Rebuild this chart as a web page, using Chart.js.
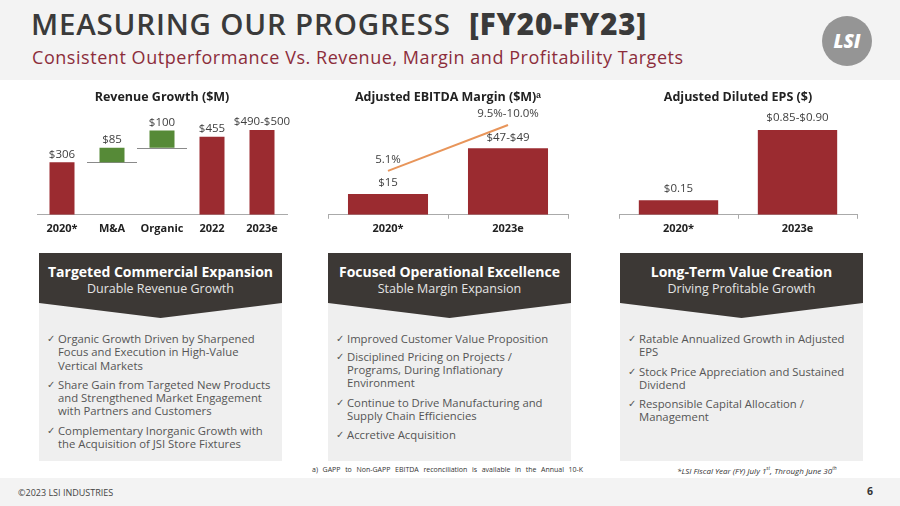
<!doctype html>
<html lang="en">
<head>
<meta charset="utf-8">
<title>Measuring Our Progress [FY20-FY23]</title>
<script src="https://cdn.jsdelivr.net/npm/chart.js@4"></script>
<style>
  body { margin:0; width:900px; height:506px; position:relative; overflow:hidden; background:#fff; font-family:'Open Sans', sans-serif; }
  .band { position:absolute; left:0; width:900px; background:#f3f3f3; }
  h1 { position:absolute; left:31px; top:3px; margin:0; font-size:29.5px; font-weight:600; letter-spacing:0.8px; color:#3a3a3a; white-space:nowrap; }
  h1 b { font-weight:800; margin-left:10px; }
  .sub { position:absolute; left:32px; top:45px; font-size:18px; letter-spacing:0.55px; color:#8c2d3b; white-space:nowrap; }
  .logo { position:absolute; left:822px; top:16px; width:50px; height:50px; border-radius:50%; background:#959595;
          color:#fff; font:italic 800 19px 'Open Sans', sans-serif; text-align:center; line-height:50px; }
  canvas { position:absolute; }
  .panel { position:absolute; top:253px; width:243px; height:208px; background:#efefef; }
  .cap { position:absolute; left:0; top:0; width:100%; height:65px; background:#3c3835;
         clip-path:polygon(0 0,100% 0,100% 50px,50% 65px,0 50px); text-align:center; color:#fff; }
  .cap h3 { margin:0; padding-top:10px; font-size:14px; font-weight:700; line-height:18px; white-space:nowrap; }
  .cap p { margin:0; font-size:12.5px; line-height:16px; color:#e4e4e4; }
  ul { position:absolute; left:0; top:79px; margin:0; padding:0; list-style:none; }
  li { position:relative; padding-left:19px; font-size:11.3px; line-height:13.3px; color:#555; white-space:nowrap; margin-bottom:6px; }
  li::before { content:'\2713'; position:absolute; left:8px; top:0; font-size:10px; color:#555; }
  .note { position:absolute; top:465px; white-space:nowrap; color:#333; }
  .foot { position:absolute; top:486px; font-size:9px; color:#444; }
</style>
</head>
<body>
<div class="band" style="top:0;height:80px"></div>
<div class="band" style="top:478px;height:28px"></div>
<h1>MEASURING OUR PROGRESS <b>[FY20-FY23]</b></h1>
<div class="sub">Consistent Outperformance Vs. Revenue, Margin and Profitability Targets</div>
<div class="logo">LSI</div>

<canvas id="revenue" width="265" height="148" style="left:30px;top:90px"></canvas>
<canvas id="ebitda" width="276" height="148" style="left:310px;top:90px"></canvas>
<canvas id="eps" width="276" height="148" style="left:600px;top:90px"></canvas>

<div class="panel" style="left:39px">
  <div class="cap"><h3>Targeted Commercial Expansion</h3><p>Durable Revenue Growth</p></div>
  <ul>
    <li>Organic Growth Driven by Sharpened<br>Focus and Execution in High-Value<br>Vertical Markets</li>
    <li>Share Gain from Targeted New Products<br>and Strengthened Market Engagement<br>with Partners and Customers</li>
    <li>Complementary Inorganic Growth with<br>the Acquisition of JSI Store Fixtures</li>
  </ul>
</div>
<div class="panel" style="left:328px">
  <div class="cap"><h3>Focused Operational Excellence</h3><p>Stable Margin Expansion</p></div>
  <ul>
    <li style="margin-bottom:4.5px">Improved Customer Value Proposition</li>
    <li>Disciplined Pricing on Projects /<br>Programs, During Inflationary<br>Environment</li>
    <li>Continue to Drive Manufacturing and<br>Supply Chain Efficiencies</li>
    <li>Accretive Acquisition</li>
  </ul>
</div>
<div class="panel" style="left:620px">
  <div class="cap"><h3>Long-Term Value Creation</h3><p>Driving Profitable Growth</p></div>
  <ul>
    <li>Ratable Annualized Growth in Adjusted<br>EPS</li>
    <li>Stock Price Appreciation and Sustained<br>Dividend</li>
    <li>Responsible Capital Allocation /<br>Management</li>
  </ul>
</div>

<div class="note" style="left:312px;font-size:7px;word-spacing:2.8px">a) GAPP to Non-GAPP EBITDA reconciliation is available in the Annual 10-K</div>
<div class="note" style="left:677px;font-size:8px;font-style:italic">*LSI Fiscal Year (FY) July 1<sup style="font-size:5px">st</sup>, Through June 30<sup style="font-size:5px">th</sup></div>
<div class="foot" style="left:18px">&copy;2023 LSI INDUSTRIES</div>
<div class="foot" style="left:867px;font-size:10.5px;font-weight:700;top:484px;color:#333">6</div>

<script>
// revenue bridge ($M)
const revCategories = ['2020*', 'M&A', 'Organic', '2022', '2023e']
const revStart = [0, 306, 391, 0, 0]
const revEnd = [306, 391, 491, 455, 495]
const revLabels = ['$306', '$85', '$100', '$455', '$490-$500']

// adjusted EBITDA ($M) and margin (%)
const ebitdaCategories = ['2020*', '2023e']
const ebitdaValues = [15, 48]
const ebitdaLabels = ['$15', '$47-$49']
const marginValues = [5.1, 9.75]
const marginLabels = ['5.1%', '9.5%-10.0%']

// adjusted diluted EPS ($)
const epsCategories = ['2020*', '2023e']
const epsValues = [0.15, 0.875]
const epsLabels = ['$0.15', '$0.85-$0.90']

const RED = '#9b2b30'
const GREEN = '#568a37'

Chart.defaults.font.family = "'Open Sans', sans-serif"
Chart.defaults.animation = false

// text above every bar / line point
const valueLabels = {
  id: 'valueLabels',
  afterDatasetsDraw(chart, args, opts) {
    const ctx = chart.ctx
    ctx.save()
    ctx.font = '11.5px "Open Sans", sans-serif'
    ctx.fillStyle = '#404040'
    ctx.textAlign = 'center'
    ctx.textBaseline = 'middle'
    opts.labels.forEach((labels, i) => {
      if (!labels) return
      chart.getDatasetMeta(i).data.forEach((el, j) => {
        ctx.fillText(labels[j], el.x, el.y - opts.offset)
      })
    })
    ctx.restore()
  }
}

// bridge connector under floating bars
const connectors = {
  id: 'connectors',
  beforeDatasetsDraw(chart) {
    const ctx = chart.ctx
    const step = chart.chartArea.width / chart.data.labels.length
    ctx.save()
    ctx.strokeStyle = '#8a8a8a'
    ctx.lineWidth = 1
    chart.getDatasetMeta(0).data.forEach((el, j) => {
      if (revStart[j] <= 0) return
      ctx.beginPath()
      ctx.moveTo(el.x - step / 2, Math.round(el.base) + 0.5)
      ctx.lineTo(el.x + step / 2, Math.round(el.base) + 0.5)
      ctx.stroke()
    })
    ctx.restore()
  }
}

function titleOpts(text) {
  return {
    display: true,
    text,
    color: '#222',
    font: { size: 12.5, weight: 'bold' },
    padding: { top: 0, bottom: 10 }
  }
}

function xAxis(tickColor) {
  return {
    offset: true,
    grid: { drawOnChartArea: false, drawTicks: true, tickLength: 4, color: tickColor },
    border: { display: true, color: '#aaa' },
    ticks: { color: '#222', font: { size: 11, weight: 'bold' }, padding: 3 }
  }
}

new Chart(document.getElementById('revenue'), {
  type: 'bar',
  data: {
    labels: revCategories,
    datasets: [{
      data: revCategories.map((c, i) => [revStart[i], revEnd[i]]),
      backgroundColor: revStart.map((s) => (s > 0 ? GREEN : RED)),
      barPercentage: 0.5,
      categoryPercentage: 1
    }]
  },
  options: {
    responsive: false,
    layout: { padding: { left: 7, right: 8 } },
    scales: {
      x: xAxis('rgba(0,0,0,0)'),
      y: { display: false, min: 0, max: 582 }
    },
    plugins: {
      legend: { display: false },
      tooltip: { enabled: false },
      title: titleOpts('Revenue Growth ($M)'),
      valueLabels: { labels: [revLabels], offset: 8 }
    }
  },
  plugins: [connectors, valueLabels]
})

new Chart(document.getElementById('ebitda'), {
  type: 'bar',
  data: {
    labels: ebitdaCategories,
    datasets: [{
      data: ebitdaValues,
      backgroundColor: RED,
      barPercentage: 0.667,
      categoryPercentage: 1,
      order: 2
    }, {
      type: 'line',
      data: marginValues,
      yAxisID: 'y2',
      borderColor: '#e8955a',
      borderWidth: 2,
      pointRadius: 0,
      order: 1
    }]
  },
  options: {
    responsive: false,
    layout: { padding: { left: 18, right: 18 } },
    scales: {
      x: xAxis('#aaa'),
      y: { display: false, min: 0, max: 72 },
      y2: { display: false, min: 0.65, max: 10.76 }
    },
    plugins: {
      legend: { display: false },
      tooltip: { enabled: false },
      title: titleOpts('Adjusted EBITDA Margin ($M)\u1d43'),
      valueLabels: { labels: [ebitdaLabels, marginLabels], offset: 11 }
    }
  },
  plugins: [valueLabels]
})

new Chart(document.getElementById('eps'), {
  type: 'bar',
  data: {
    labels: epsCategories,
    datasets: [{
      data: epsValues,
      backgroundColor: RED,
      barPercentage: 0.667,
      categoryPercentage: 1
    }]
  },
  options: {
    responsive: false,
    layout: { padding: { left: 19, right: 19 } },
    scales: {
      x: xAxis('#aaa'),
      y: { display: false, min: 0, max: 1.03 }
    },
    plugins: {
      legend: { display: false },
      tooltip: { enabled: false },
      title: titleOpts('Adjusted Diluted EPS ($)'),
      valueLabels: { labels: [epsLabels], offset: 12 }
    }
  },
  plugins: [valueLabels]
})
</script>
</body>
</html>
